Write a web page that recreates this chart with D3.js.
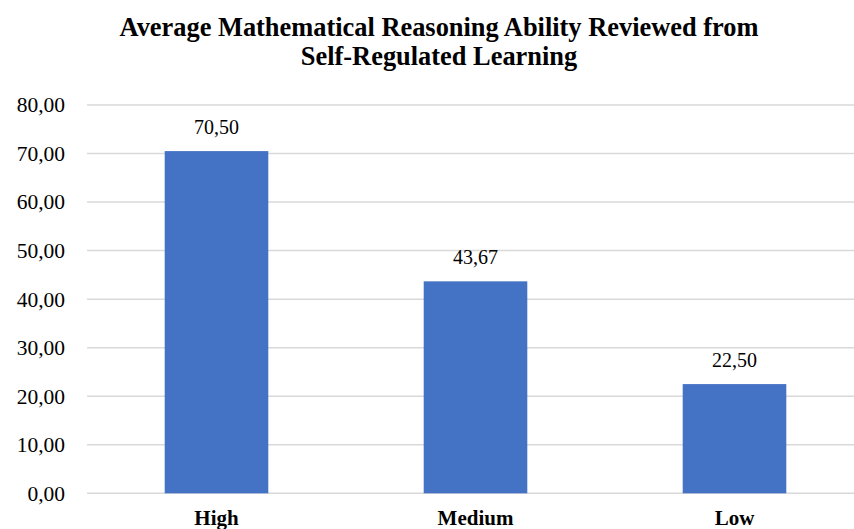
<!DOCTYPE html>
<html><head><meta charset="utf-8">
<script src="https://cdn.jsdelivr.net/npm/d3@7"></script>
<style>body{margin:0;background:#fff}svg{display:block}</style>
</head><body>
<svg id="c" width="854" height="529"></svg>
<script>
const categories = ["High", "Medium", "Low"];
const values = [70.50, 43.67, 22.50];
const yTicks = [0, 10, 20, 30, 40, 50, 60, 70, 80];
const titleLines = ["Average Mathematical Reasoning Ability Reviewed from", "Self-Regulated Learning"];

const svg = d3.select("#c");
const fmt = v => d3.format(".2f")(v).replace(".", ",");
const x = d3.scaleBand().domain(categories).range([87, 864]).paddingInner(0.6).paddingOuter(0.3);
const y = d3.scaleLinear().domain([0, 80]).range([493.3, 105]);
const serif = '"Liberation Serif", "Times New Roman", serif';

svg.append("g").selectAll("line").data(yTicks).join("line")
  .attr("x1", 87).attr("x2", 854)
  .attr("y1", d => y(d)).attr("y2", d => y(d))
  .attr("stroke", "#d9d9d9").attr("stroke-width", 1.5);

const yAxis = d3.axisLeft(y).tickValues(yTicks).tickFormat(fmt).tickSize(0).tickPadding(0);
const gy = svg.append("g").attr("transform", "translate(65,0)").call(yAxis);
gy.select(".domain").remove();
gy.selectAll("text").style("font-family", serif).style("font-size", "21.5px").attr("fill", "#000").attr("x", 0);

svg.append("g").selectAll("rect").data(values).join("rect")
  .attr("x", (d, i) => x(categories[i])).attr("width", x.bandwidth())
  .attr("y", d => y(d)).attr("height", d => y(0) - y(d))
  .attr("fill", "#4472c4");

svg.append("g").selectAll("text").data(values).join("text")
  .attr("x", (d, i) => x(categories[i]) + x.bandwidth() / 2)
  .attr("y", d => y(d) - 17.5)
  .attr("text-anchor", "middle").style("font-family", serif).style("font-size", "20px")
  .attr("fill", "#000").text(fmt);

const xAxis = d3.axisBottom(x).tickSize(0).tickPadding(0);
const gx = svg.append("g").attr("transform", "translate(0,525)").call(xAxis);
gx.select(".domain").remove();
gx.selectAll("text").attr("dy", 0).style("font-family", serif).style("font-size", "21px")
  .style("font-weight", "bold").attr("fill", "#000");

svg.append("g").selectAll("text").data(titleLines).join("text")
  .attr("x", 439).attr("y", (d, i) => 36 + i * 29)
  .attr("text-anchor", "middle").style("font-family", serif).style("font-size", "26.4px")
  .style("font-weight", "bold").attr("fill", "#000").text(d => d);
</script>
</body></html>
